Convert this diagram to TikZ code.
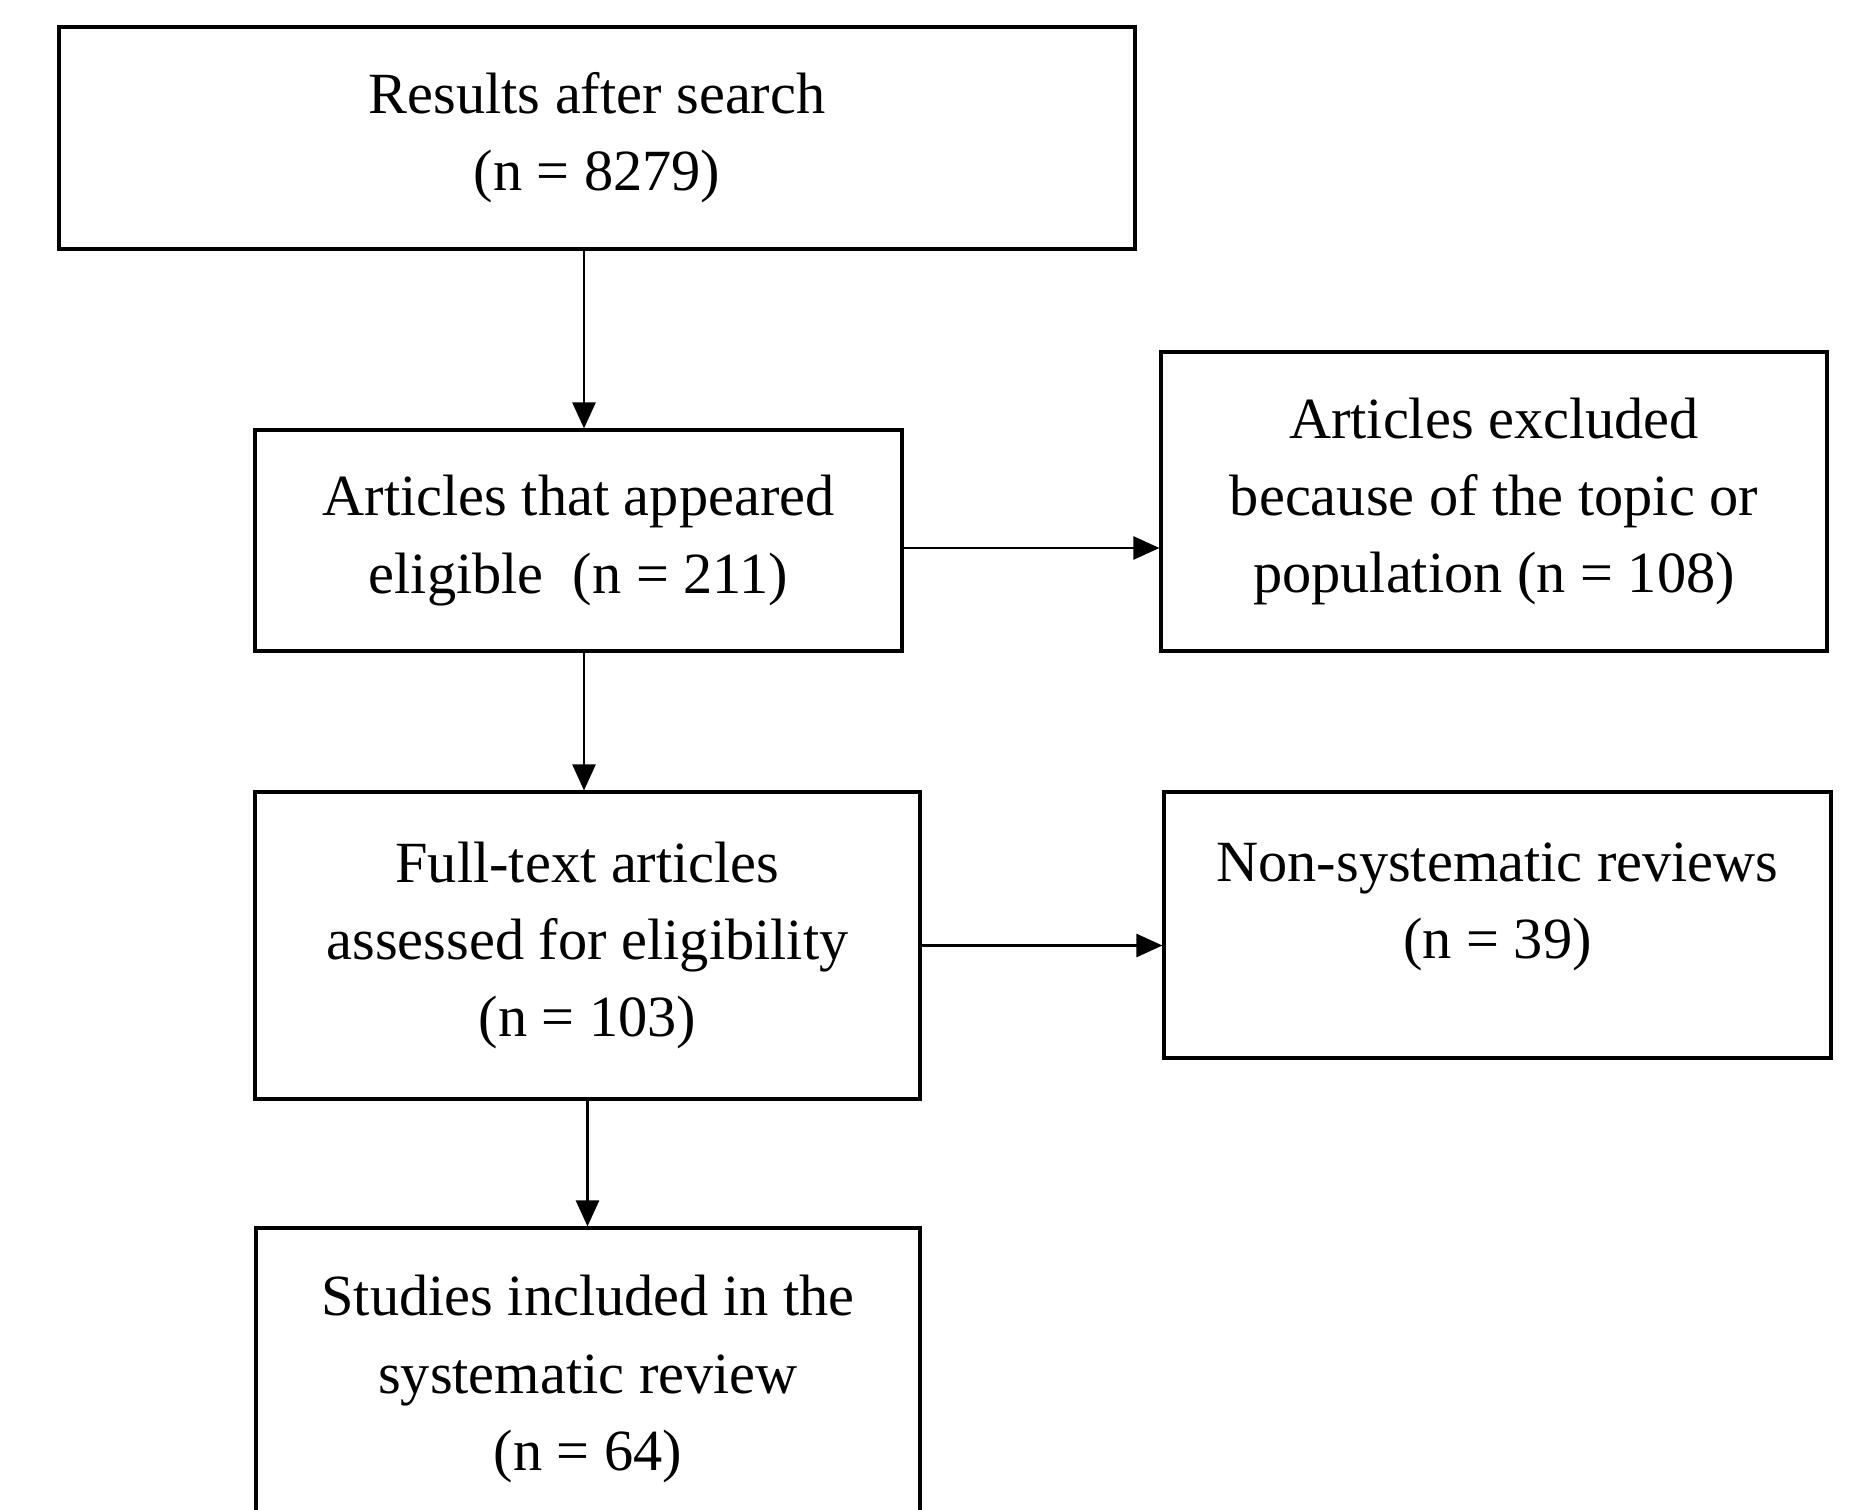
\documentclass[tikz,border=0pt]{standalone}
\usepackage{fontspec}
\setmainfont{Liberation Serif}
\usepackage{tikz}
\usetikzlibrary{arrows.meta, positioning}

\begin{document}
\begin{tikzpicture}[
  box/.style={draw, line width=0.9pt, rectangle, align=center, inner sep=0pt,
              font=\fontsize{16.6}{22}\selectfont},
  arr/.style={-{Triangle[length=2.6mm, width=2.3mm]}, line width=0.75pt}
]
\clip (0,0) rectangle (18.57,15.09);
% Main column
\node[box, minimum width=10.76cm, minimum height=2.22cm] (res) at (5.97,13.71)
     {Results after search\\(n = 8279)};
\node[box, minimum width=6.47cm, minimum height=2.21cm] (elig) at (5.785,9.685)
     {Articles that appeared\\eligible\ \ (n = 211)};
\node[box, minimum width=6.65cm, minimum height=3.07cm] (full) at (5.875,5.635)
     {Full-text articles\\assessed for eligibility\\(n = 103)};
\node[box, minimum width=6.64cm, minimum height=3.02cm] (incl) at (5.88,1.30)
     {Studies included in the\\systematic review\\(n = 64)};
% Exclusions
\node[box, minimum width=6.66cm, minimum height=2.99cm] (excl) at (14.94,10.075)
     {Articles excluded\\because of the topic or\\population (n = 108)};
\node[box, minimum width=6.67cm, minimum height=2.66cm] (nsr) at (14.975,5.84)
     {Non-systematic reviews\\(n = 39)\\[-8pt]~};
% Connectors
\draw[arr] ([xshift=-1.3mm]res.south) -- ([xshift=-1.3mm]res.south |- elig.north);
\draw[arr] ([xshift=0.55mm]elig.south) -- ([xshift=0.55mm]elig.south |- full.north);
\draw[arr] (full.south) -- (full.south |- incl.north);
\draw[arr] ([yshift=-0.75mm]elig.east) -- ([yshift=-0.75mm]elig.east -| excl.west);
\draw[arr] (full.east) -- (full.east -| nsr.west);
\end{tikzpicture}
\end{document}
